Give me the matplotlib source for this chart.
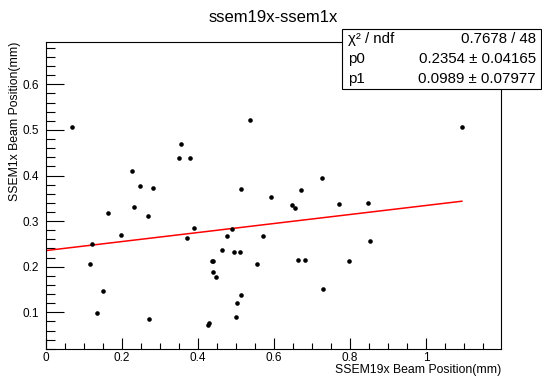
import numpy as np
import matplotlib
matplotlib.use("Agg")
import matplotlib.pyplot as plt
from matplotlib.patches import Rectangle
from matplotlib.ticker import MultipleLocator

plt.rcParams['font.family'] = ['Liberation Sans', 'DejaVu Sans']

# SSEM19x vs SSEM1x beam positions (mm)
x = [0.068, 0.226, 0.246, 0.282, 0.232, 0.349, 0.356, 0.380, 0.536, 0.512,
     0.592, 0.162, 0.268, 0.197, 0.121, 0.117, 0.149, 0.134, 0.272, 0.370,
     0.389, 0.462, 0.476, 0.490, 0.495, 0.511, 0.436, 0.440, 0.439, 0.448,
     0.555, 0.572, 0.514, 0.502, 0.499, 0.429, 0.426, 1.094, 0.725, 0.672,
     0.646, 0.656, 0.770, 0.847, 0.852, 0.663, 0.682, 0.797, 0.729]
y = [0.507, 0.409, 0.378, 0.373, 0.330, 0.438, 0.470, 0.438, 0.522, 0.370,
     0.352, 0.318, 0.311, 0.270, 0.249, 0.205, 0.146, 0.098, 0.085, 0.262,
     0.284, 0.236, 0.267, 0.282, 0.232, 0.232, 0.212, 0.212, 0.189, 0.177,
     0.205, 0.267, 0.139, 0.120, 0.090, 0.077, 0.073, 0.506, 0.395, 0.368,
     0.335, 0.328, 0.337, 0.340, 0.257, 0.214, 0.214, 0.212, 0.152]

# fit results (pol1) from the stats box
p0, p0_err = 0.2354, 0.04165
p1, p1_err = 0.0989, 0.07977
chi2, ndf = 0.7678, 48

fig = plt.figure(figsize=(5.42, 3.81), dpi=100)
ax = fig.add_axes([46/542, 32/381, 455/542, 307/381])

ax.plot(x, y, 'o', color='black', ms=3.3, mec='none', zorder=3)
xf = np.array([0, max(x)])
ax.plot(xf, p0 + p1*xf, color='red', lw=1.1, zorder=2)

ax.set_xlim(0, 1.197)
ax.set_ylim(0.0195, 0.6928)

ax.xaxis.set_major_locator(MultipleLocator(0.2))
ax.xaxis.set_minor_locator(MultipleLocator(0.05))
ax.yaxis.set_major_locator(MultipleLocator(0.1))
ax.yaxis.set_minor_locator(MultipleLocator(0.02))
ax.set_xticks([0, 0.2, 0.4, 0.6, 0.8, 1.0])
ax.set_xticklabels(['0', '0.2', '0.4', '0.6', '0.8', '1'])
ax.set_yticks([0.1, 0.2, 0.3, 0.4, 0.5, 0.6])
ax.set_yticklabels(['0.1', '0.2', '0.3', '0.4', '0.5', '0.6'])

ax.tick_params(axis='x', which='major', direction='in', length=8, width=0.8, labelsize=8.5, pad=2.5)
ax.tick_params(axis='x', which='minor', direction='in', length=4, width=0.8)
ax.tick_params(axis='y', which='major', direction='in', length=13, width=0.8, labelsize=8.5, pad=5)
ax.tick_params(axis='y', which='minor', direction='in', length=6.5, width=0.8)
for s in ax.spines.values():
    s.set_linewidth(0.8)

ax.set_xlabel('SSEM19x Beam Position(mm)', fontsize=8.8, loc='right', labelpad=0)
ax.set_ylabel('SSEM1x Beam Position(mm)', fontsize=8.8, loc='top', labelpad=1)

fig.text(0.504, 0.954, 'ssem19x-ssem1x', ha='center', va='center', fontsize=12)

# stats box
bx0, bx1 = 342/542, 541/542
by0, by1 = 1 - 89/381, 1 - 29/381
fig.add_artist(Rectangle((bx0, by0), bx1 - bx0, by1 - by0, transform=fig.transFigure,
                         facecolor='white', edgecolor='black', lw=0.8, zorder=5))
rows = [('χ² / ndf', f'{chi2} / {ndf}'),
        ('p0', f'{p0} ± {p0_err}'),
        ('p1', f'{p1} ± {p1_err}')]
for i, (name, val) in enumerate(rows):
    yy = by1 - (i + 0.5) * (by1 - by0) / 3
    fig.text(348/542, yy, name, ha='left', va='center', fontsize=10.8, zorder=6)
    fig.text(536/542, yy, val, ha='right', va='center', fontsize=10.8, zorder=6)

fig.savefig('out.png', dpi=100)
